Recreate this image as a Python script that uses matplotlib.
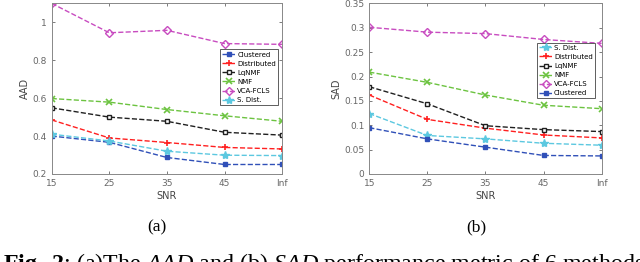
import matplotlib
matplotlib.use("Agg")
import matplotlib.pyplot as plt

# SNR levels
snr = ["15", "25", "35", "45", "Inf"]
x = [0, 1, 2, 3, 4]

# (a) AAD
aad_clustered = [0.40, 0.367, 0.287, 0.25, 0.25]
aad_distributed = [0.485, 0.39, 0.366, 0.34, 0.332]
aad_lqnmf = [0.549, 0.50, 0.478, 0.42, 0.405]
aad_nmf = [0.598, 0.579, 0.54, 0.507, 0.478]
aad_vca = [1.10, 0.945, 0.958, 0.888, 0.884]
aad_sdist = [0.41, 0.374, 0.32, 0.299, 0.297]

# (b) SAD
sad_sdist = [0.124, 0.079, 0.072, 0.063, 0.059]
sad_distributed = [0.162, 0.112, 0.094, 0.080, 0.074]
sad_lqnmf = [0.179, 0.144, 0.099, 0.091, 0.087]
sad_nmf = [0.209, 0.188, 0.162, 0.141, 0.134]
sad_vca = [0.301, 0.291, 0.288, 0.276, 0.268]
sad_clustered = [0.095, 0.072, 0.055, 0.038, 0.037]

c_blue = "#3050b8"
c_red = "#ff2020"
c_black = "#202020"
c_green = "#6cc340"
c_mag = "#c84cc0"
c_cyan = "#5cc8e0"

sty = {
    "Clustered": dict(color=c_blue, marker="s", mfc=c_blue, ms=3.5),
    "Distributed": dict(color=c_red, marker="+", ms=5, mew=1.2),
    "LqNMF": dict(color=c_black, marker="s", mfc="white", ms=3.5),
    "NMF": dict(color=c_green, marker="x", ms=4, mew=1.2),
    "VCA-FCLS": dict(color=c_mag, marker="D", mfc="none", ms=4),
    "S. Dist.": dict(color=c_cyan, marker="*", ms=6),
}

plt.rcParams["font.family"] = "DejaVu Sans"
plt.rcParams["mathtext.fontset"] = "custom"
plt.rcParams["mathtext.rm"] = "Liberation Serif"
plt.rcParams["mathtext.it"] = "Liberation Serif:italic"
plt.rcParams["mathtext.bf"] = "Liberation Serif:bold"
fig = plt.figure(figsize=(6.4, 2.62), dpi=100)
ax1 = fig.add_axes([0.0808, 0.336, 0.36, 0.651])
ax2 = fig.add_axes([0.577, 0.336, 0.363, 0.651])

def draw(ax, series):
    for name, vals in series:
        ax.plot(x, vals, "--", lw=1.0, label=name, **sty[name])

draw(ax1, [("Clustered", aad_clustered), ("Distributed", aad_distributed),
           ("LqNMF", aad_lqnmf), ("NMF", aad_nmf), ("VCA-FCLS", aad_vca),
           ("S. Dist.", aad_sdist)])
draw(ax2, [("S. Dist.", sad_sdist), ("Distributed", sad_distributed),
           ("LqNMF", sad_lqnmf), ("NMF", sad_nmf), ("VCA-FCLS", sad_vca),
           ("Clustered", sad_clustered)])

ax1.set_ylim(0.2, 1.1)
ax1.set_yticks([0.2, 0.4, 0.6, 0.8, 1.0])
ax1.set_yticklabels(["0.2", "0.4", "0.6", "0.8", "1"])
ax1.set_ylabel("AAD", fontsize=7, color="#444444", labelpad=2)
ax2.set_ylim(0, 0.35)
ax2.set_yticks([0, 0.05, 0.1, 0.15, 0.2, 0.25, 0.3, 0.35])
ax2.set_yticklabels(["0", "0.05", "0.1", "0.15", "0.2", "0.25", "0.3", "0.35"])
ax2.set_ylabel("SAD", fontsize=7, color="#444444", labelpad=2)

for ax in (ax1, ax2):
    ax.set_xlim(0, 4)
    ax.set_xticks(x)
    ax.set_xticklabels(snr)
    ax.set_xlabel("SNR", fontsize=7, color="#444444", labelpad=2)
    ax.tick_params(labelsize=6.5, colors="#666666", direction="in",
                   length=2, width=0.6, top=True, right=True)
    for s in ax.spines.values():
        s.set_color("#888888")
        s.set_linewidth(0.7)

leg_kw = dict(fontsize=5, handlelength=2.0, handletextpad=0.2,
              labelspacing=0.45, borderpad=0.3, borderaxespad=0,
              fancybox=False, edgecolor="#444444", framealpha=1)
leg1 = ax1.legend(loc="upper left", bbox_to_anchor=(0.73, 0.73), **leg_kw)
leg2 = ax2.legend(loc="upper left", bbox_to_anchor=(0.72, 0.77), **leg_kw)
for lg in (leg1, leg2):
    lg.get_frame().set_linewidth(0.6)

fig.text(0.245, 0.133, "(a)", ha="center", va="center", fontsize=12.5,
         family="Liberation Serif")
fig.text(0.745, 0.133, "(b)", ha="center", va="center", fontsize=12.5,
         family="Liberation Serif")
fig.text(0.005, -0.03, r"$\mathbf{Fig.\ 2}$: (a)The $AAD$ and (b) $SAD$ performance metric of 6 methods",
         ha="left", va="baseline", fontsize=17.3, family="Liberation Serif")

fig.savefig("out.png", dpi=100)
